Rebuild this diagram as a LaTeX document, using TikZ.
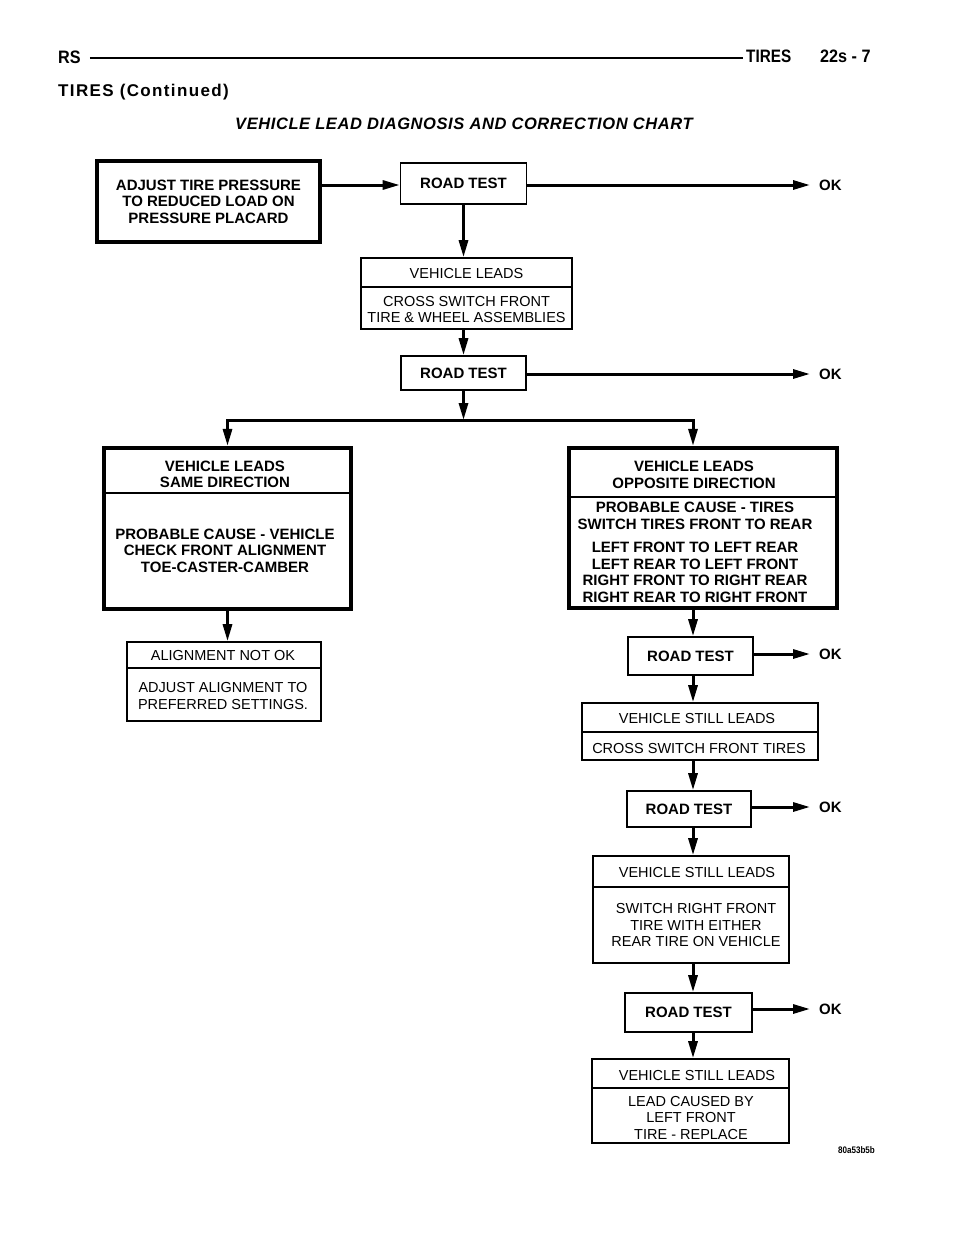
\documentclass[tikz,border=0pt]{standalone}
\usepackage{fontspec}
\setmainfont{Liberation Sans}
\usetikzlibrary{arrows.meta,calc}
\begin{document}
\begin{tikzpicture}[x=1pt,y=-1pt,
  thinbox/.style={draw, line width=1.6pt, inner sep=0pt},
  thickbox/.style={draw, line width=4.2pt, inner sep=0pt},
  rtbox/.style={thinbox, font=\fontsize{15}{17}\selectfont\bfseries},
  btxt/.style={font=\fontsize{15}{16.5}\selectfont\bfseries, align=center, inner sep=0pt},
  rtxt/.style={font=\fontsize{14.5}{16.5}\selectfont, align=center, inner sep=0pt},
  divider/.style={line width=1.8pt},
  conn/.style={line width=3pt},
  arr/.style={conn, -{Triangle[length=17pt,width=9pt]}},
  oktxt/.style={font=\fontsize{15}{17}\selectfont\bfseries, anchor=west, inner sep=0pt},
  hdr/.style={font=\fontsize{18}{20}\selectfont\bfseries, inner sep=0pt},
]
\useasboundingbox[fill=white] (0,0) rectangle (960,1242);

% header
\node[hdr, anchor=west] (rs) at (58,57.5) {\scalebox{0.9}[1]{RS}};
\node[hdr, anchor=west] (tiresh) at (746,56.5) {\scalebox{0.85}[1]{TIRES}};
\node[hdr, anchor=west] (pg) at (820,56.5) {\scalebox{0.9}[1]{22s - 7}};
\draw[line width=2pt, shorten <=9pt, shorten >=3pt] (rs.east) -- (rs.east -| tiresh.west);
\node[anchor=base west, inner sep=0pt, font=\fontsize{17}{19}\selectfont\bfseries\addfontfeature{LetterSpace=8}] (sect) at (58,96) {TIRES (Continued)};
\node[anchor=base west, inner sep=0pt, font=\fontsize{16.5}{18}\selectfont\bfseries\itshape\addfontfeature{LetterSpace=3.5}] (title) at (235,129) {VEHICLE LEAD DIAGNOSIS AND CORRECTION CHART};

\coordinate (colx) at (693,0);

% first row
\node[thickbox, btxt, minimum width=223, minimum height=81] (adj) at (208.5,201.5) {ADJUST TIRE PRESSURE\\TO REDUCED LOAD ON\\PRESSURE PLACARD};
\node[rtbox, minimum width=126, minimum height=41] (rt1) at (463.5,183.5) {ROAD TEST};
\node[oktxt] (ok1) at (819,185) {OK};
\draw[arr] (adj.east |- 0,185) -- (rt1.west |- 0,185);
\draw[arr, shorten >=9pt] (rt1.east |- ok1.west) -- (ok1.west);

% vehicle leads
\node[thinbox, minimum width=211, minimum height=71] (vl) at (466.5,293.5) {};
\draw[divider] (vl.west |- 0,287) -- (vl.east |- 0,287);
\node[rtxt] (vlt1) at (466.5,274) {VEHICLE LEADS};
\node[rtxt] (vlt2) at (466.5,309.5) {CROSS SWITCH FRONT\\TIRE \& WHEEL ASSEMBLIES};
\draw[arr] (rt1.south) -- (rt1.south |- vl.north);

\node[rtbox, minimum width=125, minimum height=34] (rt2) at (463.5,373) {ROAD TEST};
\node[oktxt] (ok2) at (819,374) {OK};
\draw[arr] (rt2.north |- vl.south) -- (rt2.north);
\draw[arr, shorten >=9pt] (rt2.east |- ok2.west) -- (ok2.west);

% branch
\coordinate (j) at (463.5,420);
\node[thickbox, minimum width=247, minimum height=161] (lb) at (227.5,528.5) {};
\node[thickbox, minimum width=268, minimum height=160] (rb) at (703,528) {};
\draw[arr] (rt2.south) -- (j);
\draw[arr] (j) -| (lb.north);
\draw[arr] (j) -| (rb.north -| colx);

% left branch
\draw[divider] (lb.west |- 0,493) -- (lb.east |- 0,493);
\node[btxt] (lbt1) at (225,474.5) {VEHICLE LEADS\\SAME DIRECTION};
\node[btxt] (lbt2) at (225,550.5) {PROBABLE CAUSE - VEHICLE\\CHECK FRONT ALIGNMENT\\TOE-CASTER-CAMBER};

\node[thinbox, minimum width=194, minimum height=79] (al) at (224,681.5) {};
\draw[divider] (al.west |- 0,668) -- (al.east |- 0,668);
\node[rtxt] (alt1) at (223,656) {ALIGNMENT NOT OK};
\node[rtxt] (alt2) at (223,696) {ADJUST ALIGNMENT TO\\PREFERRED SETTINGS.};
\draw[arr] (lb.south) -- (lb.south |- al.north);

% right branch
\draw[divider] (rb.west |- 0,497) -- (rb.east |- 0,497);
\node[btxt] (rbt1) at (694,475) {VEHICLE LEADS\\OPPOSITE DIRECTION};
\node[btxt] (rbt2) at (695,516) {PROBABLE CAUSE - TIRES\\SWITCH TIRES FRONT TO REAR};
\node[btxt] (rbt3) at (695,572.5) {LEFT FRONT TO LEFT REAR\\LEFT REAR TO LEFT FRONT\\RIGHT FRONT TO RIGHT REAR\\RIGHT REAR TO RIGHT FRONT};

\node[rtbox, minimum width=125, minimum height=38] (rt3) at (690.5,656) {ROAD TEST};
\node[oktxt] (ok3) at (819,654) {OK};
\draw[arr] (rb.south -| colx) -- (rt3.north -| colx);
\draw[arr, shorten >=9pt] (rt3.east |- ok3.west) -- (ok3.west);

\node[thinbox, minimum width=236, minimum height=57] (vs1) at (700,731.5) {};
\draw[divider] (vs1.west |- 0,732) -- (vs1.east |- 0,732);
\node[rtxt] (vs1t1) at (697,718) {VEHICLE STILL LEADS};
\node[rtxt] (vs1t2) at (699,748) {CROSS SWITCH FRONT TIRES};
\draw[arr] (rt3.south -| colx) -- (vs1.north -| colx);

\node[rtbox, minimum width=124, minimum height=36] (rt4) at (689,809) {ROAD TEST};
\node[oktxt] (ok4) at (819,807) {OK};
\draw[arr] (vs1.south -| colx) -- (rt4.north -| colx);
\draw[arr, shorten >=9pt] (rt4.east |- ok4.west) -- (ok4.west);

\node[thinbox, minimum width=196, minimum height=107] (vs2) at (691,909.5) {};
\draw[divider] (vs2.west |- 0,887) -- (vs2.east |- 0,887);
\node[rtxt] (vs2t1) at (697,872) {VEHICLE STILL LEADS};
\node[rtxt] (vs2t2) at (696,925) {SWITCH RIGHT FRONT\\TIRE WITH EITHER\\REAR TIRE ON VEHICLE};
\draw[arr] (rt4.south -| colx) -- (vs2.north -| colx);

\node[rtbox, minimum width=127, minimum height=39] (rt5) at (688.5,1012.5) {ROAD TEST};
\node[oktxt] (ok5) at (819,1009) {OK};
\draw[arr] (vs2.south -| colx) -- (rt5.north -| colx);
\draw[arr, shorten >=9pt] (rt5.east |- ok5.west) -- (ok5.west);

\node[thinbox, minimum width=197, minimum height=84] (vs3) at (690.5,1101) {};
\draw[divider] (vs3.west |- 0,1088) -- (vs3.east |- 0,1088);
\node[rtxt] (vs3t1) at (697,1075) {VEHICLE STILL LEADS};
\node[rtxt] (vs3t2) at (691,1117.5) {LEAD CAUSED BY\\LEFT FRONT\\TIRE - REPLACE};
\draw[arr] (rt5.south -| colx) -- (vs3.north -| colx);

\node[font=\fontsize{9.5}{10}\selectfont\bfseries, inner sep=0pt] (code) at (856.5,1150) {\scalebox{0.85}[1]{80a53b5b}};
\end{tikzpicture}
\end{document}
